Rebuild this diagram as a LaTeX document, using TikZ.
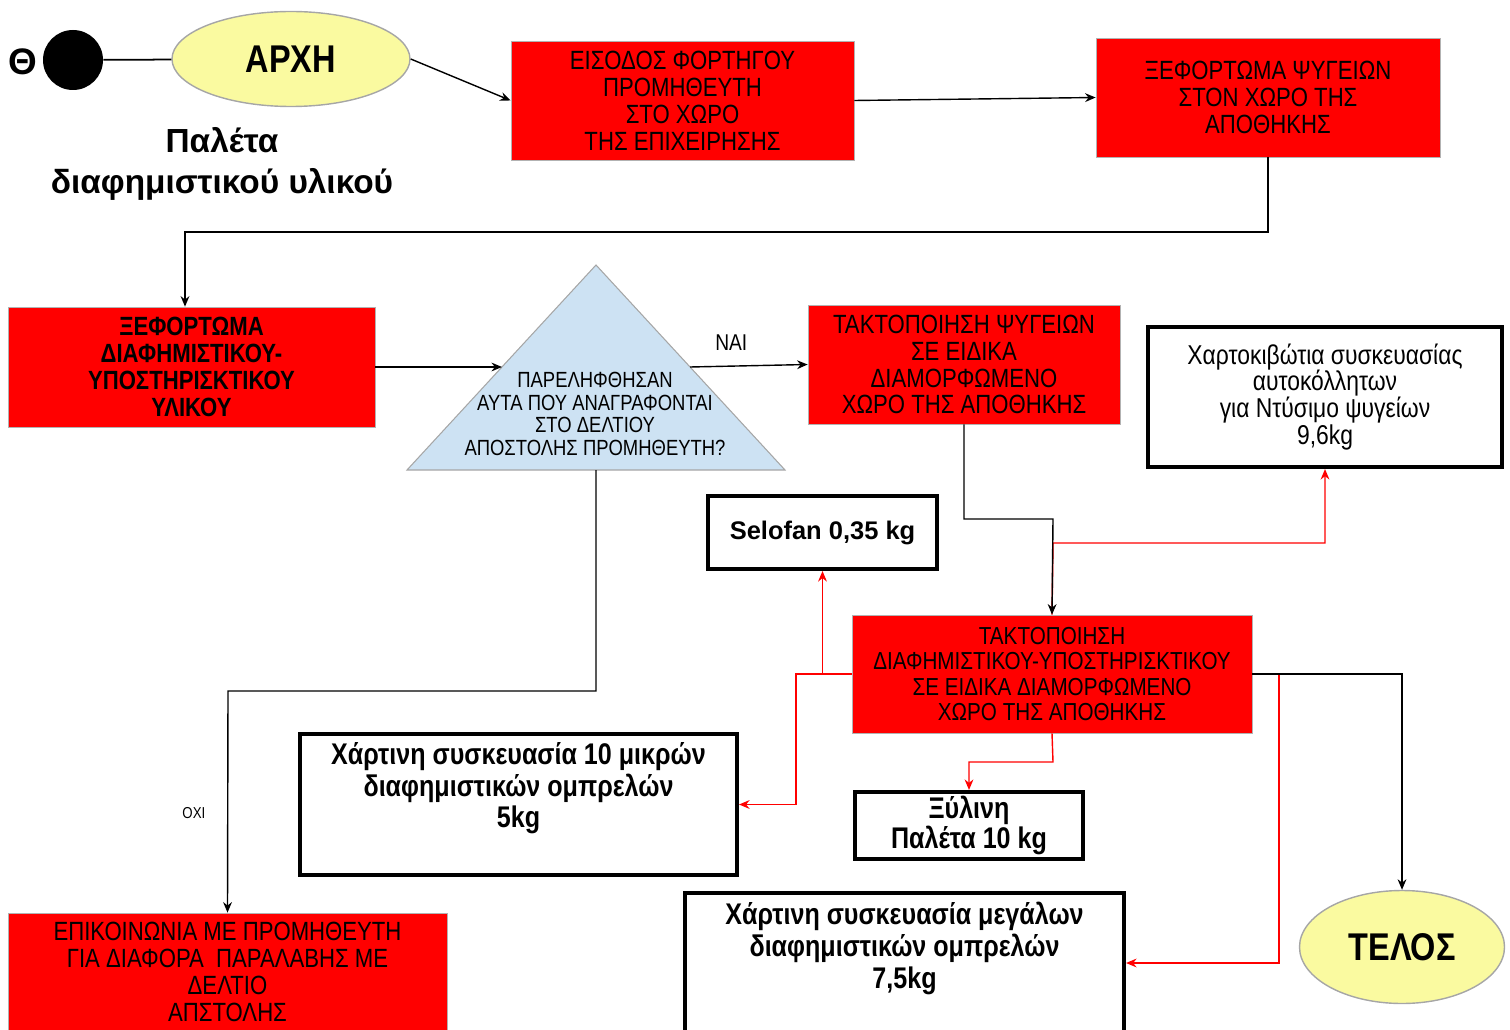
\documentclass[tikz,border=0pt]{standalone}
\usepackage{fontspec}
\setmainfont{Liberation Sans}
\newfontfamily\narrowfont[FakeStretch=0.84]{Liberation Sans}
\usepackage{tikz}
\usetikzlibrary{positioning, arrows.meta, shapes.geometric, calc}

\definecolor{startyellow}{RGB}{250,250,160}
\definecolor{decblue}{RGB}{205,226,243}

\newdimen\pxu
\pxu=0.02cm

\tikzset{
    redbox/.style={rectangle, draw=gray!60, fill=red, align=center, inner sep=0pt,
        font=\narrowfont\fontsize{15}{15.3}\selectfont},
    thickbox/.style={rectangle, draw=black, line width=2.3pt, fill=white, align=center, inner sep=0pt},
    packtext/.style={align=center, inner sep=0pt, font=\narrowfont\bfseries\fontsize{17}{18.1}\selectfont},
    flow/.style={-{Stealth[length=6pt, width=5pt]}, line width=0.8pt, black},
    redflow/.style={-{Stealth[length=6pt, width=5pt]}, line width=0.8pt, red},
    oval/.style={ellipse, draw=gray!70, fill=startyellow, line width=0.8pt, inner sep=0pt,
        font=\narrowfont\bfseries\fontsize{22}{26}\selectfont}
}

\begin{document}
\begin{tikzpicture}[x=0.02cm, y=-0.02cm]
    \useasboundingbox (0,0) rectangle (1510,1030);

    % start
    \node[font=\bfseries\fontsize{21}{24}\selectfont] (theta) at (23,62) {Θ};
    \node[circle, fill=black, minimum size=60*\pxu, inner sep=0pt] (dot) at (73,60) {};
    \node[oval, minimum width=238*\pxu, minimum height=95*\pxu] (start) at (291,59) {ΑΡΧΗ};
    \node[align=center, font=\bfseries\fontsize{19}{23.8}\selectfont] (pallet) at (222,164) {Παλέτα\\διαφημιστικού υλικού};

    % top row
    \node[redbox, minimum width=343*\pxu, minimum height=119*\pxu] (entry) at (682.5,100.5)
        {ΕΙΣΟΔΟΣ ΦΟΡΤΗΓΟΥ\\ΠΡΟΜΗΘΕΥΤΗ\\ΣΤΟ ΧΩΡΟ\\ΤΗΣ ΕΠΙΧΕΙΡΗΣΗΣ};
    \node[redbox, minimum width=344*\pxu, minimum height=119*\pxu] (unloadfridge) at (1268,97.5)
        {ΞΕΦΟΡΤΩΜΑ ΨΥΓΕΙΩΝ\\ΣΤΟΝ ΧΩΡΟ ΤΗΣ\\ΑΠΟΘΗΚΗΣ};

    % second row
    \node[redbox, font=\narrowfont\bfseries\fontsize{15}{15.3}\selectfont, minimum width=367*\pxu, minimum height=120*\pxu] (unloadpromo) at (191.5,367)
        {ΞΕΦΟΡΤΩΜΑ\\ΔΙΑΦΗΜΙΣΤΙΚΟΥ-\\ΥΠΟΣΤΗΡΙΣΚΤΙΚΟΥ\\ΥΛΙΚΟΥ};
    \draw[fill=decblue, draw=gray!70, line width=0.6pt] (596,265) -- (785,470) -- (407,470) -- cycle;
    \coordinate (decL) at (502,367);
    \coordinate (decR) at (690,367);
    \coordinate (decB) at (596,470);
    \node[align=center, inner sep=0pt, font=\narrowfont\fontsize{12.5}{12.8}\selectfont] (check) at (595,414)
        {ΠΑΡΕΛΗΦΘΗΣΑΝ\\ΑΥΤΑ ΠΟΥ ΑΝΑΓΡΑΦΟΝΤΑΙ\\ΣΤΟ ΔΕΛΤΙΟΥ\\ΑΠΟΣΤΟΛΗΣ ΠΡΟΜΗΘΕΥΤΗ?};
    \node[redbox, minimum width=312*\pxu, minimum height=119*\pxu] (arrangefridge) at (964,364.5)
        {ΤΑΚΤΟΠΟΙΗΣΗ ΨΥΓΕΙΩΝ\\ΣΕ ΕΙΔΙΚΑ\\ΔΙΑΜΟΡΦΩΜΕΝΟ\\ΧΩΡΟ ΤΗΣ ΑΠΟΘΗΚΗΣ};
    \node[thickbox, font=\narrowfont\fontsize{15.5}{15.3}\selectfont, minimum width=354*\pxu, minimum height=140*\pxu] (cartons) at (1325,397)
        {Χαρτοκιβώτια συσκευασίας\\αυτοκόλλητων\\για Ντύσιμο ψυγείων\\9,6kg};

    % middle
    \node[thickbox, font=\bfseries\fontsize{14.5}{17}\selectfont, minimum width=229*\pxu, minimum height=73*\pxu] (selofan) at (822.5,532.5)
        {Selofan 0,35 kg};
    \node[redbox, font=\narrowfont\fontsize{14}{14.3}\selectfont, minimum width=400*\pxu, minimum height=118*\pxu] (arrangepromo) at (1052,674)
        {ΤΑΚΤΟΠΟΙΗΣΗ\\ΔΙΑΦΗΜΙΣΤΙΚΟΥ-ΥΠΟΣΤΗΡΙΣΚΤΙΚΟΥ\\ΣΕ ΕΙΔΙΚΑ ΔΙΑΜΟΡΦΩΜΕΝΟ\\ΧΩΡΟ ΤΗΣ ΑΠΟΘΗΚΗΣ};

    % bottom
    \node[thickbox, minimum width=437*\pxu, minimum height=141*\pxu] (smallpack) at (518.5,804.5) {};
    \node[packtext, below=0.2cm of smallpack.north] (smalltext)
        {Χάρτινη συσκευασία 10 μικρών\\διαφημιστικών ομπρελών\\5kg};
    \node[thickbox, font=\narrowfont\bfseries\fontsize{17}{17.5}\selectfont, minimum width=228*\pxu, minimum height=67*\pxu] (wood) at (969,825.5)
        {Ξύλινη\\Παλέτα 10 kg};
    \node[thickbox, minimum width=439*\pxu, minimum height=140*\pxu] (bigpack) at (904.5,963) {};
    \node[packtext, below=0.22cm of bigpack.north] (bigtext)
        {Χάρτινη συσκευασία μεγάλων\\διαφημιστικών ομπρελών\\7,5kg};
    \node[oval, minimum width=205*\pxu, minimum height=113*\pxu] (end) at (1402,947) {ΤΕΛΟΣ};
    \node[redbox, minimum width=439*\pxu, minimum height=118*\pxu] (contact) at (227.5,972)
        {ΕΠΙΚΟΙΝΩΝΙΑ ΜΕ ΠΡΟΜΗΘΕΥΤΗ\\ΓΙΑ ΔΙΑΦΟΡΑ \ ΠΑΡΑΛΑΒΗΣ ΜΕ\\ΔΕΛΤΙΟ\\ΑΠΣΤΟΛΗΣ};

    % turning points
    \coordinate (t1) at (185,232);
    \coordinate (t2) at (228,691);
    \coordinate (t3) at (1053,519);
    \coordinate (t4) at (1053,543);
    \coordinate (t5) at (796,674);
    \coordinate (t6) at (1053,762);
    \coordinate (t7) at (1279,674);

    % connectors
    \draw[line width=1pt] (dot) -- (start);
    \draw[flow] (start.east) -- (entry.west);
    \draw[flow] (entry.east) -- (unloadfridge.west);
    \draw[flow] (unloadfridge.south) |- (t1) -- (t1 |- unloadpromo.north);
    \draw[flow] (unloadpromo.east) -- (decL);
    \draw[flow] (decR) -- (arrangefridge.west) node[midway, above=5pt, xshift=-10pt, font=\narrowfont\fontsize{13}{15}\selectfont] {ΝΑΙ};
    \draw[flow] (decB) |- (t2) -- (contact.north) node[pos=0.55, left=9pt, font=\narrowfont\fontsize{9}{10}\selectfont] {ΟΧΙ};

    \draw[redflow] (arrangepromo.north) -- (t4) -| (cartons.south);
    \draw[flow] (arrangefridge.south) |- (t3) -- (arrangepromo.north);
    \draw[redflow] (arrangepromo.west) -| (selofan.south);
    \draw[redflow] (arrangepromo.west) -- (t5) |- (smallpack.east);
    \draw[redflow] (arrangepromo.south) -- (t6) -| (wood.north);
    \draw[redflow] (arrangepromo.east) -- (t7) |- (bigpack.east);
    \draw[flow] (arrangepromo.east) -| (end.north);
\end{tikzpicture}
\end{document}
